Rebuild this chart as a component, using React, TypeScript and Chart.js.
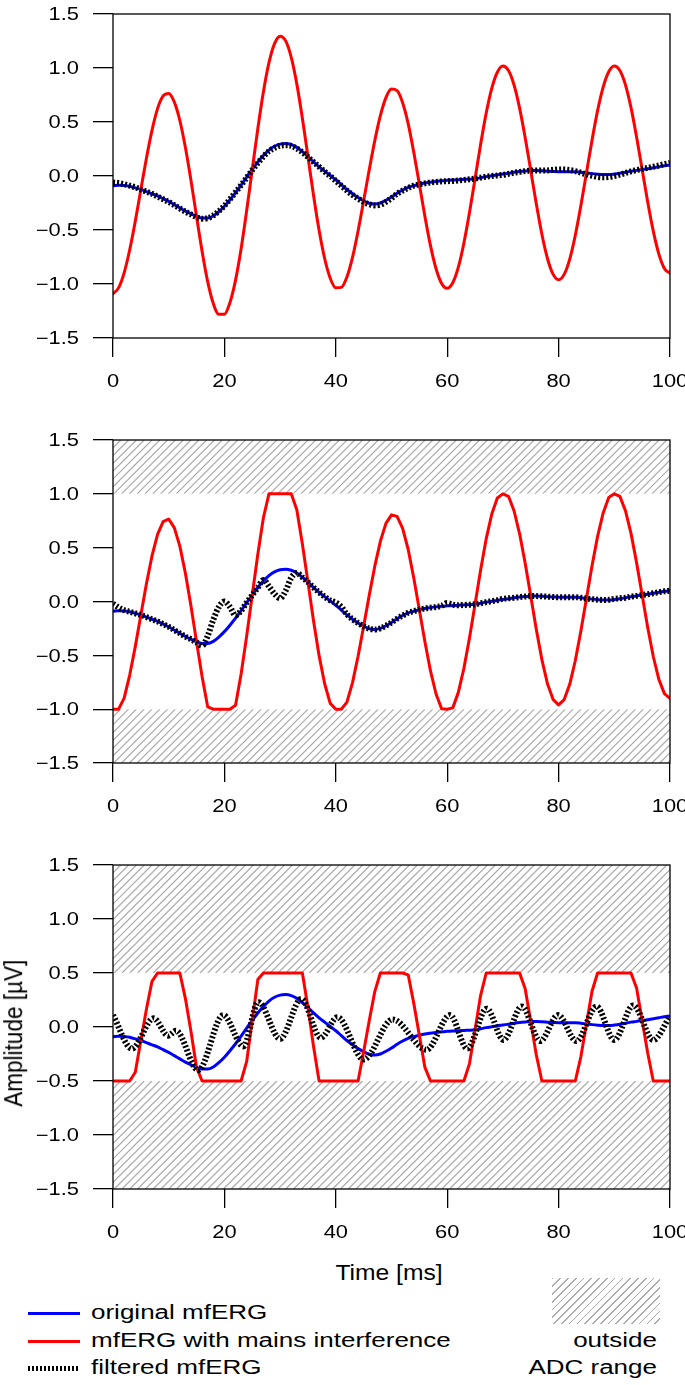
import React, { useEffect, useRef } from "react";
import { Chart, registerables } from "chart.js";

Chart.register(...registerables);

// ---------------- data ----------------
const TIME_MS = [
  0, 1, 2, 3, 4, 5, 6, 7, 8, 9, 10, 11, 12, 13, 14, 15, 16, 17, 18, 19, 20, 21, 22, 23, 24, 25,
  26, 27, 28, 29, 30, 31, 32, 33, 34, 35, 36, 37, 38, 39, 40, 41, 42, 43, 44, 45, 46, 47, 48, 49,
  50, 51, 52, 53, 54, 55, 56, 57, 58, 59, 60, 61, 62, 63, 64, 65, 66, 67, 68, 69, 70, 71, 72, 73,
  74, 75, 76, 77, 78, 79, 80, 81, 82, 83, 84, 85, 86, 87, 88, 89, 90, 91, 92, 93, 94, 95, 96, 97,
  98, 99, 100,
];

// original mfERG (blue), identical in all three panels
const ORIGINAL = [
  -0.09, -0.085, -0.088, -0.095, -0.11, -0.125, -0.145, -0.165, -0.185, -0.21,
  -0.235, -0.265, -0.295, -0.325, -0.35, -0.375, -0.39, -0.39, -0.37, -0.33,
  -0.28, -0.22, -0.155, -0.085, -0.01, 0.06, 0.13, 0.19, 0.24, 0.275,
  0.295, 0.3, 0.29, 0.265, 0.225, 0.18, 0.13, 0.085, 0.045, 0.005,
  -0.035, -0.08, -0.125, -0.165, -0.2, -0.23, -0.252, -0.26, -0.25, -0.225,
  -0.195, -0.16, -0.13, -0.105, -0.09, -0.076, -0.065, -0.057, -0.05, -0.045,
  -0.04, -0.037, -0.035, -0.032, -0.03, -0.026, -0.016, -0.006, 0.003, 0.01,
  0.018, 0.026, 0.034, 0.041, 0.046, 0.05, 0.05, 0.048, 0.045, 0.042,
  0.04, 0.04, 0.04, 0.04, 0.035, 0.028, 0.022, 0.017, 0.014, 0.014,
  0.018, 0.025, 0.035, 0.045, 0.052, 0.06, 0.068, 0.077, 0.086, 0.095,
  0.1,
];

// mfERG with mains interference (red), panel 1 (no clipping)
const MAINS_FULL = [
  -1.09, -1.036, -0.897, -0.683, -0.419, -0.125, 0.164, 0.423, 0.624, 0.741,
  0.765, 0.686, 0.514, 0.263, -0.041, -0.375, -0.699, -0.978, -1.179, -1.281,
  -1.28, -1.171, -0.964, -0.673, -0.319, 0.06, 0.439, 0.778, 1.049, 1.226,
  1.295, 1.251, 1.099, 0.853, 0.534, 0.18, -0.179, -0.503, -0.764, -0.946,
  -1.035, -1.031, -0.934, -0.753, -0.509, -0.23, 0.057, 0.328, 0.559, 0.726,
  0.805, 0.791, 0.679, 0.483, 0.219, -0.076, -0.374, -0.645, -0.859, -0.996,
  -1.04, -0.988, -0.844, -0.62, -0.339, -0.026, 0.293, 0.582, 0.812, 0.961,
  1.018, 0.977, 0.843, 0.629, 0.355, 0.05, -0.259, -0.54, -0.764, -0.909,
  -0.96, -0.911, -0.769, -0.548, -0.274, 0.028, 0.331, 0.605, 0.823, 0.965,
  1.018, 0.976, 0.844, 0.633, 0.361, 0.06, -0.241, -0.511, -0.723, -0.856,
  -0.9,
];

// red, panel 2 (ADC range +-1.0)
const MAINS_ADC_1 = [
  -1, -1, -0.897, -0.683, -0.419, -0.125, 0.164, 0.423, 0.624, 0.741,
  0.765, 0.686, 0.514, 0.263, -0.041, -0.375, -0.699, -0.978, -1, -1,
  -1, -1, -0.964, -0.673, -0.319, 0.06, 0.439, 0.778, 1, 1,
  1, 1, 1, 0.853, 0.534, 0.18, -0.179, -0.503, -0.764, -0.946,
  -1, -1, -0.934, -0.753, -0.509, -0.23, 0.057, 0.328, 0.559, 0.726,
  0.805, 0.791, 0.679, 0.483, 0.219, -0.076, -0.374, -0.645, -0.859, -0.996,
  -1, -0.988, -0.844, -0.62, -0.339, -0.026, 0.293, 0.582, 0.812, 0.961,
  1, 0.977, 0.843, 0.629, 0.355, 0.05, -0.259, -0.54, -0.764, -0.909,
  -0.96, -0.911, -0.769, -0.548, -0.274, 0.028, 0.331, 0.605, 0.823, 0.965,
  1, 0.976, 0.844, 0.633, 0.361, 0.06, -0.241, -0.511, -0.723, -0.856,
  -0.9,
];

// red, panel 3 (ADC range +-0.5)
const MAINS_ADC_05 = [
  -0.5, -0.5, -0.5, -0.5, -0.419, -0.125, 0.164, 0.423, 0.5, 0.5,
  0.5, 0.5, 0.5, 0.263, -0.041, -0.375, -0.5, -0.5, -0.5, -0.5,
  -0.5, -0.5, -0.5, -0.5, -0.319, 0.06, 0.439, 0.5, 0.5, 0.5,
  0.5, 0.5, 0.5, 0.5, 0.5, 0.18, -0.179, -0.5, -0.5, -0.5,
  -0.5, -0.5, -0.5, -0.5, -0.5, -0.23, 0.057, 0.328, 0.5, 0.5,
  0.5, 0.5, 0.5, 0.483, 0.219, -0.076, -0.374, -0.5, -0.5, -0.5,
  -0.5, -0.5, -0.5, -0.5, -0.339, -0.026, 0.293, 0.5, 0.5, 0.5,
  0.5, 0.5, 0.5, 0.5, 0.355, 0.05, -0.259, -0.5, -0.5, -0.5,
  -0.5, -0.5, -0.5, -0.5, -0.274, 0.028, 0.331, 0.5, 0.5, 0.5,
  0.5, 0.5, 0.5, 0.5, 0.361, 0.06, -0.241, -0.5, -0.5, -0.5,
  -0.5,
];

// filtered mfERG (black dotted), panel 1
const FILTERED_FULL = [
  -0.06, -0.065, -0.075, -0.09, -0.105, -0.125, -0.145, -0.165, -0.19, -0.215,
  -0.24, -0.27, -0.3, -0.33, -0.355, -0.38, -0.395, -0.39, -0.365, -0.325,
  -0.275, -0.215, -0.15, -0.085, -0.015, 0.055, 0.12, 0.18, 0.23, 0.26,
  0.28, 0.285, 0.28, 0.255, 0.22, 0.175, 0.13, 0.085, 0.04, 0.0,
  -0.045, -0.09, -0.135, -0.175, -0.21, -0.24, -0.262, -0.272, -0.265, -0.24,
  -0.205, -0.165, -0.135, -0.11, -0.09, -0.078, -0.068, -0.06, -0.055, -0.05,
  -0.048, -0.046, -0.042, -0.036, -0.03, -0.024, -0.015, -0.006, 0.0, 0.005,
  0.01, 0.02, 0.03, 0.038, 0.045, 0.05, 0.05, 0.05, 0.052, 0.056,
  0.06, 0.06, 0.055, 0.045, 0.03, 0.015, 0.002, -0.008, -0.012, -0.01,
  0.0, 0.013, 0.028, 0.043, 0.055, 0.065, 0.075, 0.086, 0.097, 0.11,
  0.12,
];

// filtered mfERG, panel 2
const FILTERED_ADC_1 = [
  -0.02, -0.055, -0.08, -0.095, -0.11, -0.125, -0.145, -0.165, -0.185, -0.21,
  -0.235, -0.265, -0.295, -0.325, -0.35, -0.38, -0.41, -0.32, -0.17, -0.05,
  0.0, -0.05, -0.13, -0.085, -0.01, 0.06, 0.13, 0.2, 0.14, 0.07,
  0.03, 0.1, 0.22, 0.265, 0.225, 0.18, 0.13, 0.085, 0.045, 0.01,
  -0.01, -0.05, -0.12, -0.165, -0.2, -0.23, -0.252, -0.26, -0.25, -0.225,
  -0.195, -0.16, -0.13, -0.105, -0.09, -0.076, -0.065, -0.057, -0.05, -0.04,
  -0.015, -0.03, -0.035, -0.032, -0.03, -0.026, -0.016, -0.006, 0.003, 0.012,
  0.025, 0.03, 0.034, 0.041, 0.046, 0.05, 0.05, 0.048, 0.045, 0.042,
  0.04, 0.04, 0.04, 0.04, 0.035, 0.028, 0.022, 0.017, 0.014, 0.016,
  0.025, 0.03, 0.035, 0.045, 0.052, 0.06, 0.068, 0.077, 0.086, 0.095,
  0.1,
];

// filtered mfERG, panel 3: turning points of the residual oscillation
const FILTERED_ADC_05_T = [
  0, 3.4, 7.3, 9.9, 11.3, 15.3, 19.8, 23.4, 26.1, 30.0, 33.8, 37.3, 40.3, 45.0, 50.2,
  56.3, 60.5, 63.6, 67.1, 70.1, 73.4, 76.7, 79.9, 83.2, 86.8, 90.0, 93.4, 97.0, 100,
];
const FILTERED_ADC_05_V = [
  0.11, -0.2, 0.08, -0.08, -0.035, -0.4, 0.11, -0.18, 0.23, -0.11, 0.26, -0.1, 0.09, -0.3, 0.07,
  -0.21, 0.11, -0.2, 0.17, -0.12, 0.19, -0.13, 0.11, -0.13, 0.19, -0.12, 0.2, -0.12, 0.1,
];

const X_TICKS = [0, 20, 40, 60, 80, 100];
const X_TICK_LABELS = ["0", "20", "40", "60", "80", "100"];
const Y_TICKS = [-1.5, -1, -0.5, 0, 0.5, 1, 1.5];
const Y_TICK_LABELS = ["\u22121.5", "\u22121.0", "\u22120.5", "0.0", "0.5", "1.0", "1.5"];

const ADC_LIMIT_PANEL2 = 1.0;
const ADC_LIMIT_PANEL3 = 0.5;

const SERIES_NAMES = ["original mfERG", "mfERG with mains interference", "filtered mfERG"];
const X_TITLE = "Time [ms]";
const Y_TITLE = "Amplitude [\u00B5V]";
const HATCH_NAME = ["outside", "ADC range"];

// ---------------- styling ----------------
const FONT = '"Liberation Sans", Arial, Helvetica, sans-serif';
const BLUE = "#0000ff";
const RED = "#ff0000";
const HATCH_COLOR = "#ababab";
const HATCH_STEP = 7.8;
const CANVAS_W = 685;
const CANVAS_H = 400;
const PAD_TOP = 14;
const PLOT_LEFT = 113;
const PLOT_RIGHT_PAD = 15;
const TICK_SIZE = 17.5;
const TICK_SX = 1.25;
const Y_LABEL_RIGHT = 79;
const X_LABEL_DROP = 48.8;
const AXIS_LW = 1.3;

const pts = (xs: number[], ys: number[]) => xs.map((x, i) => ({ x, y: ys[i] }));

type Panel = {
  top: number;
  bottom: number;
  mains: number[];
  mainsSmooth: boolean;
  filtered: { x: number; y: number }[];
  limit: number | null;
};

const PANELS: Panel[] = [
  { top: 14, bottom: 338, mains: MAINS_FULL, mainsSmooth: true, filtered: pts(TIME_MS, FILTERED_FULL), limit: null },
  { top: 440, bottom: 763, mains: MAINS_ADC_1, mainsSmooth: false, filtered: pts(TIME_MS, FILTERED_ADC_1), limit: ADC_LIMIT_PANEL2 },
  { top: 865, bottom: 1189, mains: MAINS_ADC_05, mainsSmooth: false, filtered: pts(FILTERED_ADC_05_T, FILTERED_ADC_05_V), limit: ADC_LIMIT_PANEL3 },
];

function hatchRect(ctx: CanvasRenderingContext2D, x0: number, y0: number, x1: number, y1: number) {
  const h = y1 - y0;
  if (h <= 0) return;
  ctx.save();
  ctx.beginPath();
  ctx.rect(x0, y0, x1 - x0, h);
  ctx.clip();
  ctx.strokeStyle = HATCH_COLOR;
  ctx.lineWidth = 1.2;
  ctx.beginPath();
  for (let k = x0 - h - HATCH_STEP * 2; k < x1 + HATCH_STEP; k += HATCH_STEP) {
    ctx.moveTo(k, y1);
    ctx.lineTo(k + h, y0);
  }
  ctx.stroke();
  ctx.restore();
}

const hatchPlugin = {
  id: "adcHatch",
  beforeDatasetsDraw(chart: any, _args: any, opts: any) {
    const limit = opts ? opts.limit : null;
    if (limit == null) return;
    const { ctx, chartArea: a, scales } = chart;
    const yHi = scales.y.getPixelForValue(limit);
    const yLo = scales.y.getPixelForValue(-limit);
    hatchRect(ctx, a.left, a.top, a.right, yHi);
    hatchRect(ctx, a.left, yLo, a.right, a.bottom);
  },
};

const framePlugin = {
  id: "panelFrame",
  afterDatasetsDraw(chart: any) {
    const { ctx, chartArea: a } = chart;
    ctx.save();
    ctx.strokeStyle = "#000";
    ctx.lineWidth = AXIS_LW;
    ctx.strokeRect(a.left, a.top, a.right - a.left, a.bottom - a.top);
    ctx.restore();
  },
};

const tickLabelPlugin = {
  id: "stretchedTickLabels",
  afterDraw(chart: any) {
    const { ctx, chartArea: a, scales } = chart;
    ctx.save();
    ctx.fillStyle = "#000";
    ctx.font = `${TICK_SIZE}px ${FONT}`;
    ctx.textBaseline = "alphabetic";
    const capHalf = TICK_SIZE * 0.358;
    ctx.textAlign = "right";
    scales.y.ticks.forEach((t: any) => {
      const idx = Y_TICKS.indexOf(t.value);
      if (idx < 0) return;
      const py = scales.y.getPixelForValue(t.value);
      ctx.save();
      ctx.translate(Y_LABEL_RIGHT, py + capHalf);
      ctx.scale(TICK_SX, 1);
      ctx.fillText(Y_TICK_LABELS[idx], 0, 0);
      ctx.restore();
    });
    ctx.textAlign = "center";
    scales.x.ticks.forEach((t: any) => {
      const idx = X_TICKS.indexOf(t.value);
      if (idx < 0) return;
      const px = scales.x.getPixelForValue(t.value);
      ctx.save();
      ctx.translate(px, a.bottom + X_LABEL_DROP);
      ctx.scale(TICK_SX, 1);
      ctx.fillText(X_TICK_LABELS[idx], 0, 0);
      ctx.restore();
    });
    ctx.restore();
  },
};

function makeChart(canvas: HTMLCanvasElement, p: Panel) {
  const plotH = p.bottom - p.top;
  const xAxisH = CANVAS_H - PAD_TOP - plotH;
  const grid = (len: number) => ({
    drawOnChartArea: false,
    drawTicks: true,
    tickLength: len,
    color: "#000",
    lineWidth: AXIS_LW,
  });
  return new Chart(canvas, {
    type: "line",
    data: {
      datasets: [
        {
          label: SERIES_NAMES[2],
          data: p.filtered,
          borderColor: "#000",
          borderWidth: 6,
          borderDash: [2, 2],
          borderCapStyle: "butt",
          pointRadius: 0,
          cubicInterpolationMode: "monotone",
          fill: false,
        },
        {
          label: SERIES_NAMES[1],
          data: pts(TIME_MS, p.mains),
          borderColor: RED,
          borderWidth: 3,
          borderJoinStyle: "round",
          borderCapStyle: "round",
          pointRadius: 0,
          cubicInterpolationMode: p.mainsSmooth ? "monotone" : "default",
          tension: 0,
          fill: false,
        },
        {
          label: SERIES_NAMES[0],
          data: pts(TIME_MS, ORIGINAL),
          borderColor: BLUE,
          borderWidth: 3,
          borderJoinStyle: "round",
          borderCapStyle: "round",
          pointRadius: 0,
          cubicInterpolationMode: "monotone",
          fill: false,
        },
      ],
    } as any,
    options: {
      animation: false,
      responsive: false,
      maintainAspectRatio: false,
      events: [],
      layout: { padding: { top: PAD_TOP, right: PLOT_RIGHT_PAD, left: 0, bottom: 0 } },
      plugins: {
        legend: { display: false },
        tooltip: { enabled: false },
        adcHatch: { limit: p.limit },
      } as any,
      scales: {
        x: {
          type: "linear",
          min: X_TICKS[0],
          max: X_TICKS[X_TICKS.length - 1],
          afterBuildTicks: (s: any) => {
            s.ticks = X_TICKS.map((v) => ({ value: v }));
          },
          afterFit: (s: any) => {
            s.height = xAxisH;
          },
          ticks: { display: false },
          grid: grid(19),
          border: { display: false },
        },
        y: {
          type: "linear",
          min: Y_TICKS[0],
          max: Y_TICKS[Y_TICKS.length - 1],
          afterBuildTicks: (s: any) => {
            s.ticks = Y_TICKS.map((v) => ({ value: v }));
          },
          afterFit: (s: any) => {
            s.width = PLOT_LEFT;
          },
          ticks: { display: false },
          grid: grid(20),
          border: { display: false },
        },
      } as any,
    },
    plugins: [hatchPlugin, framePlugin, tickLabelPlugin],
  } as any);
}

type Align = "left" | "right" | "center";
function TextAt(props: { text: string; x: number; baseline: number; size: number; sx: number; align: Align }) {
  const { text, x, baseline, size, sx, align } = props;
  const W = 500;
  const left = align === "left" ? x : align === "right" ? x - W : x - W / 2;
  return (
    <div
      style={{
        position: "absolute",
        left,
        top: baseline - 0.8465 * size,
        width: W,
        height: size,
        lineHeight: `${size}px`,
        fontSize: size,
        fontFamily: FONT,
        textAlign: align,
        whiteSpace: "nowrap",
        color: "#000",
        transform: `scaleX(${sx})`,
        transformOrigin: `${align} center`,
      }}
    >
      {text}
    </div>
  );
}

const LEG_SIZE = 20;
const LEG_SX = 1.3;
const TITLE_SIZE = 22;
const TITLE_SX = 1.12;
const Y_TITLE_SIZE = 22.5;

export default function App() {
  const r0 = useRef<HTMLCanvasElement>(null);
  const r1 = useRef<HTMLCanvasElement>(null);
  const r2 = useRef<HTMLCanvasElement>(null);
  const refs = [r0, r1, r2];

  useEffect(() => {
    const charts = PANELS.map((p, i) => makeChart(refs[i].current as HTMLCanvasElement, p));
    return () => charts.forEach((c) => c.destroy());
  }, []);

  const legendRows = [1313.3, 1341, 1368.7];
  const legendBase = [1319.3, 1346.7, 1374.2];

  return (
    <div
      style={{
        position: "absolute",
        left: 0,
        top: 0,
        width: 685,
        height: 1385,
        overflow: "hidden",
        background: "#fff",
      }}
    >
      {PANELS.map((p, i) => (
        <canvas
          key={i}
          ref={refs[i]}
          width={CANVAS_W}
          height={CANVAS_H}
          style={{ position: "absolute", left: 0, top: p.top - PAD_TOP, width: CANVAS_W, height: CANVAS_H }}
        />
      ))}

      {/* y axis title */}
      <div
        style={{
          position: "absolute",
          left: 14.5 - 110,
          top: 1033 - Y_TITLE_SIZE / 2,
          width: 220,
          height: Y_TITLE_SIZE,
          lineHeight: `${Y_TITLE_SIZE}px`,
          fontSize: Y_TITLE_SIZE,
          fontFamily: FONT,
          textAlign: "center",
          whiteSpace: "nowrap",
          color: "#000",
          transform: `scaleX(${TITLE_SX}) rotate(-90deg)`,
          transformOrigin: "center center",
        }}
      >
        {Y_TITLE}
      </div>

      {/* x axis title */}
      <TextAt text={X_TITLE} x={389} baseline={1280.7} size={TITLE_SIZE} sx={TITLE_SX} align="center" />

      {/* legend: line samples */}
      <div style={{ position: "absolute", left: 27.5, top: legendRows[0] - 1.5, width: 52.5, height: 3, background: BLUE }} />
      <div style={{ position: "absolute", left: 27.5, top: legendRows[1] - 1.5, width: 52.5, height: 3, background: RED }} />
      <div
        style={{
          position: "absolute",
          left: 27.5,
          top: legendRows[2] - 2.5,
          width: 52.5,
          height: 5,
          background: "repeating-linear-gradient(90deg, #000 0px, #000 2px, transparent 2px, transparent 4px)",
        }}
      />
      {SERIES_NAMES.map((n, i) => (
        <TextAt key={n} text={n} x={91} baseline={legendBase[i]} size={LEG_SIZE} sx={LEG_SX} align="left" />
      ))}

      {/* hatch legend */}
      <div
        style={{
          position: "absolute",
          left: 552,
          top: 1278,
          width: 108,
          height: 46,
          background: `repeating-linear-gradient(135deg, ${HATCH_COLOR} 0px, ${HATCH_COLOR} 1.2px, transparent 1.2px, transparent 5.5px)`,
        }}
      />
      <TextAt text={HATCH_NAME[0]} x={657} baseline={1346.7} size={LEG_SIZE} sx={LEG_SX} align="right" />
      <TextAt text={HATCH_NAME[1]} x={657} baseline={1373.5} size={LEG_SIZE} sx={LEG_SX} align="right" />
    </div>
  );
}
